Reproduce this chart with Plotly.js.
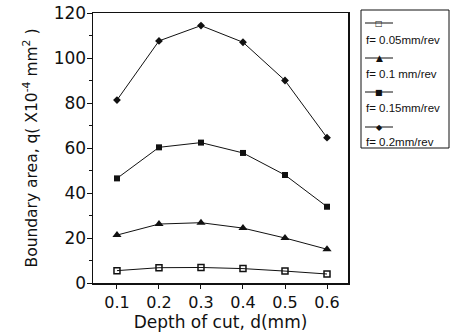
<!DOCTYPE html>
<html>
<head>
<meta charset="utf-8">
<script src="https://cdn.plot.ly/plotly-3.0.1.min.js"></script>
<style>html,body{margin:0;padding:0;background:#fff;}#chart{width:453px;height:336px;}</style>
</head>
<body>
<div id="chart"></div>
<script>
const depth = [0.1, 0.2, 0.3, 0.4, 0.5, 0.6];
const f005 = [5.5, 6.8, 6.9, 6.4, 5.3, 4.0];
const f010 = [21.3, 26.2, 26.8, 24.4, 20.0, 15.0];
const f015 = [46.5, 60.3, 62.4, 57.8, 48.0, 33.9];
const f020 = [81.3, 107.6, 114.4, 107.0, 90.0, 64.6];
const seriesLabels = ['f= 0.05mm/rev', 'f= 0.1 mm/rev', 'f= 0.15mm/rev', 'f= 0.2mm/rev'];
const keyGlyphs = ['\u25A1', '\u25B2', '\u25A0', '\u25C6'];
const xTicks = [0.1, 0.2, 0.3, 0.4, 0.5, 0.6];
const yTicks = [0, 20, 40, 60, 80, 100, 120];

const ink = '#111';
const series = [
  {y: f005, symbol: 'square-open', size: 6, lw: 1.5},
  {y: f010, symbol: 'triangle-up', size: 8, lw: 0},
  {y: f015, symbol: 'square', size: 6, lw: 0},
  {y: f020, symbol: 'diamond', size: 6, lw: 0}
];
const traces = series.map((s, i) => ({
  x: depth, y: s.y, type: 'scatter', mode: 'lines+markers',
  name: seriesLabels[i], showlegend: false,
  line: {color: ink, width: 1},
  marker: {symbol: s.symbol, size: s.size, color: ink, line: {color: ink, width: s.lw}}
}));

const L = 93, R = 348, T = 13, B = 283;
const px = v => (v - L) / (R - L);
const py = v => (B - v) / (B - T);
const keyY = [23, 58, 92, 127];
const textY = [40, 74, 108, 142];
const keyGlyphSize = [8, 9, 8, 8];

const annotations = [];
const shapes = [{
  type: 'rect', xref: 'paper', yref: 'paper',
  x0: px(361), x1: px(449), y0: py(148), y1: py(10),
  line: {color: ink, width: 1}, fillcolor: 'rgba(0,0,0,0)'
}];
seriesLabels.forEach((t, i) => {
  shapes.push({
    type: 'line', xref: 'paper', yref: 'paper',
    x0: px(365), x1: px(393), y0: py(keyY[i]), y1: py(keyY[i]),
    line: {color: ink, width: 1}
  });
  annotations.push({
    text: keyGlyphs[i], xref: 'paper', yref: 'paper', x: px(379), y: py(keyY[i]),
    xanchor: 'center', yanchor: 'middle', showarrow: false,
    bgcolor: 'rgba(0,0,0,0)', borderpad: 0,
    font: {family: 'DejaVu Sans, sans-serif', size: keyGlyphSize[i], color: ink}
  });
  annotations.push({
    text: t, xref: 'paper', yref: 'paper', x: px(364), y: py(textY[i]),
    xanchor: 'left', yanchor: 'middle', showarrow: false,
    font: {family: 'Liberation Sans, Arial, sans-serif', size: 11.5, color: ink}
  });
});

const layout = {
  width: 453, height: 336,
  margin: {l: L, r: 453 - R, t: T, b: 336 - B},
  paper_bgcolor: '#fff', plot_bgcolor: '#fff',
  font: {family: 'DejaVu Sans, sans-serif', color: ink},
  showlegend: false,
  xaxis: {
    range: [0.0429, 0.65], tickvals: xTicks, ticktext: xTicks.map(v => v.toFixed(1)),
    ticks: 'outside', ticklen: 4, tickwidth: 1, tickcolor: ink,
    showline: true, linecolor: ink, linewidth: 1.5, mirror: true,
    showgrid: false, zeroline: false,
    tickfont: {size: 16, color: ink},
    title: {text: 'Depth of cut, d(mm)', font: {size: 17, color: ink}, standoff: 5}
  },
  yaxis: {
    range: [0, 120], tickvals: yTicks,
    ticks: 'outside', ticklen: 5, tickwidth: 1, tickcolor: ink,
    ticklabelstandoff: -3,
    minor: {dtick: 10, ticks: 'outside', ticklen: 3, tickcolor: ink, showgrid: false},
    showline: true, linecolor: ink, linewidth: 1.5, mirror: true,
    showgrid: false, zeroline: false,
    tickfont: {size: 17, color: ink},
    title: {text: 'Boundary area, q( X10<sup>-4</sup> mm<sup>2</sup> )', font: {size: 15.5, color: ink}, standoff: 12}
  },
  shapes: shapes,
  annotations: annotations
};

Plotly.newPlot('chart', traces, layout, {displayModeBar: false, staticPlot: true});
</script>
</body>
</html>
